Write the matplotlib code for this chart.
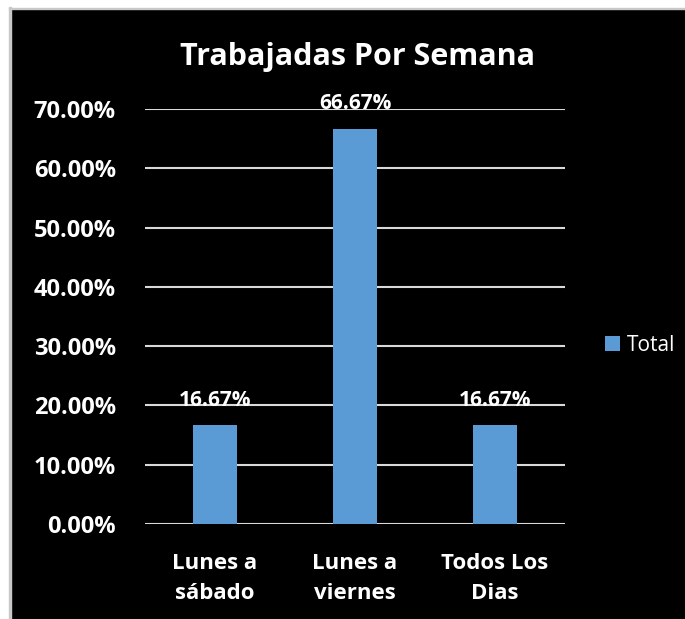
import matplotlib
matplotlib.use("Agg")
import matplotlib.pyplot as plt
from matplotlib.patches import Rectangle
from matplotlib.ticker import FuncFormatter

# ===================== 数据 =====================
categorias = ["Lunes a\nsábado", "Lunes a\nviernes", "Todos Los\nDias"]
valores = [0.1667, 0.6667, 0.1667]
etiquetas = ["16.67%", "66.67%", "16.67%"]
serie = "Total"
titulo = "Trabajadas Por Semana"

plt.rcParams['font.family'] = ['Open Sans', 'DejaVu Sans']
W, H = 685, 619
fig = plt.figure(figsize=(W / 100, H / 100), dpi=100, facecolor='black')

# borde claro arriba / izquierda
fig.patches.append(Rectangle((0, 0), 10 / W, 1, transform=fig.transFigure, color='white', zorder=0))
fig.patches.append(Rectangle((0, 1 - 8 / H), 1, 8 / H, transform=fig.transFigure, color='white', zorder=0))
fig.patches.append(Rectangle((9 / W, 0), 1.5 / W, 1 - 7 / H, transform=fig.transFigure, color='#c8c8c8', zorder=1))
fig.patches.append(Rectangle((9 / W, 1 - 9 / H), 1, 1.5 / H, transform=fig.transFigure, color='#c8c8c8', zorder=1))

ax = fig.add_axes([145 / W, (H - 524) / H, 420 / W, (524 - 109) / H])
ax.set_facecolor('black')
x = range(len(categorias))
bars = ax.bar(x, valores, width=0.315, color='#5b9bd5', zorder=3, label=serie)
ax.set_xlim(-0.5, 2.5)
ax.set_ylim(0, 0.7)
ax.set_yticks([i / 10 for i in range(8)])
ax.yaxis.set_major_formatter(FuncFormatter(lambda v, p: f"{v * 100:.2f}%"))
ax.grid(axis='y', color='#d9d9d9', linewidth=1.5, zorder=1)
for s in ax.spines.values():
    s.set_visible(False)
ax.tick_params(length=0)
ax.tick_params(axis='y', colors='white', labelsize=17, pad=21)
ax.set_xticks(list(x))
ax.set_xticklabels(categorias, color='white', fontsize=16, fontweight='bold', linespacing=1.55)
ax.tick_params(axis='x', pad=21)
for t in ax.get_yticklabels():
    t.set_fontweight('bold')

for b, lab in zip(bars, etiquetas):
    ax.annotate(lab, (b.get_x() + b.get_width() / 2, b.get_height()), xytext=(0, 10.5),
                textcoords='offset points', ha='center', va='bottom', color='white',
                fontsize=15, fontweight='bold', zorder=4)

fig.text(357 / W, 1 - 57 / H, titulo, ha='center', va='center', color='white',
         fontsize=22, fontweight='bold')

ax.legend(loc='center left', bbox_to_anchor=(1.05, 0.43), frameon=False, labelcolor='white',
          fontsize=15, handlelength=0.75, handleheight=0.75, handletextpad=0.3)

fig.savefig("out.png", dpi=100, facecolor='black')
